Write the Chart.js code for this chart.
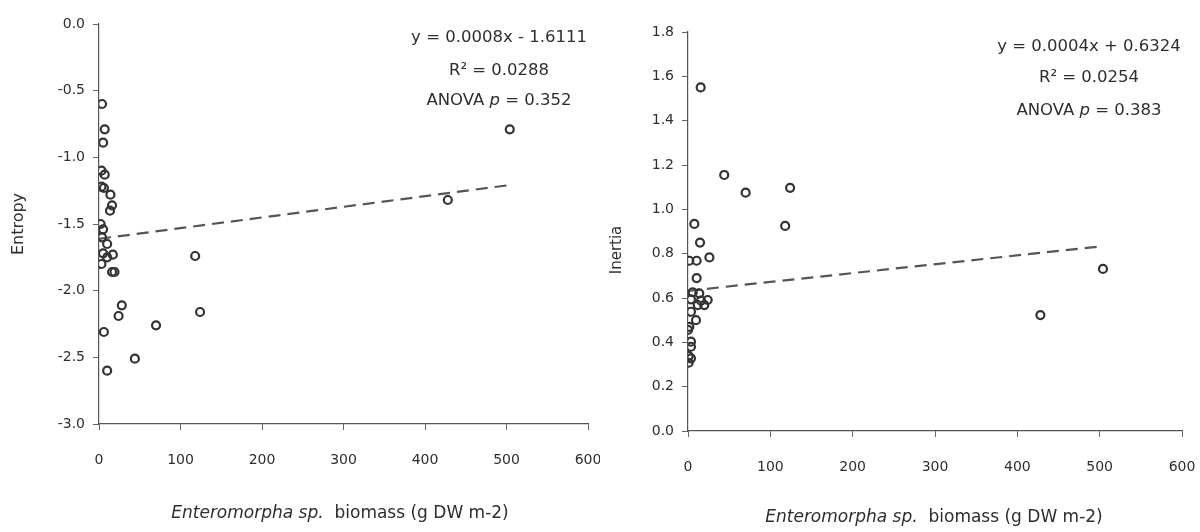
<!DOCTYPE html>
<html>
<head>
<meta charset="utf-8">
<title>Enteromorpha biomass vs Entropy and Inertia</title>
<script src="https://cdn.jsdelivr.net/npm/chart.js@4/dist/chart.umd.min.js"></script>
<style>
  html, body { margin: 0; padding: 0; background: #ffffff; }
  #wrap { position: relative; width: 1200px; height: 532px; display: flex; }
  canvas { display: block; }
</style>
</head>
<body>
<div id="wrap">
  <canvas id="entropyChart" width="600" height="532"></canvas>
  <canvas id="inertiaChart" width="600" height="532"></canvas>
</div>
<script>
// Enteromorpha sp. biomass (g DW m-2) and the texture measures of each sample
const entropyBiomass = [3.7, 7, 5, 3, 7, 3, 6, 14, 16, 13.5, 2, 5, 3.7, 10, 5, 17, 10, 3, 16, 19,
                        28, 24, 6, 70, 44, 10, 118, 124, 428, 504];
const entropyValues  = [-0.60, -0.79, -0.89, -1.10, -1.13, -1.22, -1.23, -1.28, -1.36, -1.40,
                        -1.50, -1.54, -1.60, -1.65, -1.72, -1.73, -1.75, -1.80, -1.86, -1.86,
                        -2.11, -2.19, -2.31, -2.26, -2.51, -2.60, -1.74, -2.16, -1.32, -0.79];

const inertiaBiomass = [15.4, 44, 70, 124, 118, 7.7, 14.6, 26, 1.6, 10.5, 10.5, 5.7, 13.7, 3.6, 15.8,
                        23.9, 11.8, 19.8, 3.6, 9.7, 1.6, 0, 3.6, 3.6, 0.8, 3.6, 0.8, 428, 504];
const inertiaValues  = [1.55, 1.155, 1.075, 1.097, 0.925, 0.934, 0.85, 0.783, 0.768, 0.768, 0.69,
                        0.626, 0.621, 0.594, 0.588, 0.591, 0.568, 0.568, 0.538, 0.50, 0.47, 0.456,
                        0.403, 0.38, 0.338, 0.328, 0.308, 0.523, 0.731];

// Linear fits (slope, intercept) and their statistics
const entropyFit = { slope: 0.0008, intercept: -1.6111, r2: '0.0288', p: '0.352' };
const inertiaFit = { slope: 0.0004, intercept: 0.6324, r2: '0.0254', p: '0.383' };

// Axis ranges and tick steps
const xTicks = { min: 0, max: 600, step: 100 };
const entropyTicks = { min: -3.0, max: 0.0, step: 0.5 };
const inertiaTicks = { min: 0.0, max: 1.8, step: 0.2 };

const FONT = '"DejaVu Sans", Verdana, sans-serif';
const INK = '#2e2e2e';

function toPoints(xs, ys) {
  return xs.map((x, i) => ({ x: x, y: ys[i] }));
}

function fitLine(fit, xs) {
  const x0 = 0;
  const x1 = Math.max(...xs);
  return [{ x: x0, y: fit.slope * x0 + fit.intercept }, { x: x1, y: fit.slope * x1 + fit.intercept }];
}

function fmtEquation(fit) {
  const sign = fit.intercept < 0 ? '-' : '+';
  return 'y = ' + fit.slope.toFixed(4) + 'x ' + sign + ' ' + Math.abs(fit.intercept).toFixed(4);
}

// Draws axis titles and the regression statistics block
const labelsPlugin = {
  id: 'panelLabels',
  afterDraw(chart, args, opts) {
    const ctx = chart.ctx;
    ctx.save();
    ctx.fillStyle = INK;
    ctx.textBaseline = 'middle';

    // y axis title
    ctx.save();
    ctx.translate(opts.yTitle.x, opts.yTitle.y);
    ctx.rotate(-Math.PI / 2);
    ctx.textAlign = 'center';
    ctx.font = opts.yTitle.size + 'px ' + FONT;
    ctx.fillText(opts.yTitle.text, 0, 0);
    ctx.restore();

    // x axis title: italic genus name followed by upright text
    const partA = 'Enteromorpha sp.';
    const partB = '  biomass (g DW m-2)';
    const fA = 'italic 17px ' + FONT;
    const fB = '17px ' + FONT;
    ctx.font = fA; const wA = ctx.measureText(partA).width;
    ctx.font = fB; const wB = ctx.measureText(partB).width;
    const sx = opts.xTitle.x - (wA + wB) / 2;
    ctx.textAlign = 'left';
    ctx.font = fA; ctx.fillText(partA, sx, opts.xTitle.y);
    ctx.font = fB; ctx.fillText(partB, sx + wA, opts.xTitle.y);

    // regression statistics
    const fit = opts.fit;
    const cx = opts.stats.x;
    const f = '16.5px ' + FONT;
    ctx.textAlign = 'center';
    ctx.font = f;
    ctx.fillText(fmtEquation(fit), cx, opts.stats.y[0]);
    ctx.fillText('R\u00B2 = ' + fit.r2, cx, opts.stats.y[1]);

    const s1 = 'ANOVA ';
    const s2 = 'p';
    const s3 = ' = ' + fit.p;
    const fi = 'italic 16.5px ' + FONT;
    ctx.font = f; const w1 = ctx.measureText(s1).width; const w3 = ctx.measureText(s3).width;
    ctx.font = fi; const w2 = ctx.measureText(s2).width;
    const px = cx - (w1 + w2 + w3) / 2;
    ctx.textAlign = 'left';
    ctx.font = f; ctx.fillText(s1, px, opts.stats.y[2]);
    ctx.font = fi; ctx.fillText(s2, px + w1, opts.stats.y[2]);
    ctx.font = f; ctx.fillText(s3, px + w1 + w2, opts.stats.y[2]);
    ctx.restore();
  }
};

function makeChart(id, cfg) {
  const ctx = document.getElementById(id);
  return new Chart(ctx, {
    type: 'scatter',
    data: {
      datasets: [
        {
          label: cfg.yTitle,
          data: toPoints(cfg.xs, cfg.ys),
          pointStyle: 'circle',
          pointRadius: 4,
          pointHoverRadius: 4,
          pointBorderWidth: 2.2,
          borderColor: '#333333',
          backgroundColor: 'rgba(255,255,255,0)',
          order: 1
        },
        {
          type: 'line',
          label: 'fit',
          data: fitLine(cfg.fit, cfg.xs),
          borderColor: '#555555',
          borderWidth: 2.2,
          borderDash: [12, 7],
          pointRadius: 0,
          fill: false,
          order: 2
        }
      ]
    },
    options: {
      responsive: false,
      animation: false,
      layout: { padding: cfg.padding },
      plugins: {
        legend: { display: false },
        tooltip: { enabled: false },
        panelLabels: {
          yTitle: cfg.yTitlePos,
          xTitle: cfg.xTitlePos,
          stats: cfg.statsPos,
          fit: cfg.fit
        }
      },
      scales: {
        x: {
          type: 'linear',
          min: xTicks.min,
          max: xTicks.max,
          afterFit(scale) {
            scale.height = cfg.xAxisHeight;
            scale.paddingLeft = 0;
            scale.paddingRight = 0;
          },
          ticks: {
            stepSize: xTicks.step,
            color: INK,
            font: { family: FONT, size: 14 },
            padding: cfg.xTickPad,
            maxRotation: 0
          },
          grid: { drawOnChartArea: false, drawTicks: true, tickLength: 6, color: '#666666' },
          border: { display: true, color: '#555555', width: 1.2 }
        },
        y: {
          type: 'linear',
          min: cfg.yTicks.min,
          max: cfg.yTicks.max,
          afterFit(scale) {
            scale.width = cfg.yAxisWidth;
            scale.paddingTop = 0;
            scale.paddingBottom = 0;
          },
          ticks: {
            stepSize: cfg.yTicks.step,
            color: INK,
            font: { family: FONT, size: 14 },
            padding: 8,
            callback: (v) => Number(v).toFixed(1)
          },
          grid: { drawOnChartArea: false, drawTicks: true, tickLength: 6, color: '#666666' },
          border: { display: true, color: '#555555', width: 1.2 }
        }
      }
    },
    plugins: [labelsPlugin]
  });
}

makeChart('entropyChart', {
  xs: entropyBiomass, ys: entropyValues, fit: entropyFit, yTicks: entropyTicks,
  yTitle: 'Entropy',
  padding: { left: 0, right: 12, top: 24, bottom: 0 },
  yAxisWidth: 99, xAxisHeight: 108, xTickPad: 22,
  yTitlePos: { text: 'Entropy', x: 19, y: 224, size: 16 },
  xTitlePos: { x: 340, y: 514 },
  statsPos: { x: 499, y: [38, 71, 101] }
});

makeChart('inertiaChart', {
  xs: inertiaBiomass, ys: inertiaValues, fit: inertiaFit, yTicks: inertiaTicks,
  yTitle: 'Inertia',
  padding: { left: 0, right: 18, top: 32, bottom: 0 },
  yAxisWidth: 88, xAxisHeight: 101, xTickPad: 22,
  yTitlePos: { text: 'Inertia', x: 17, y: 250, size: 15 },
  xTitlePos: { x: 334, y: 518 },
  statsPos: { x: 489, y: [47, 78, 111] }
});
</script>
</body>
</html>
